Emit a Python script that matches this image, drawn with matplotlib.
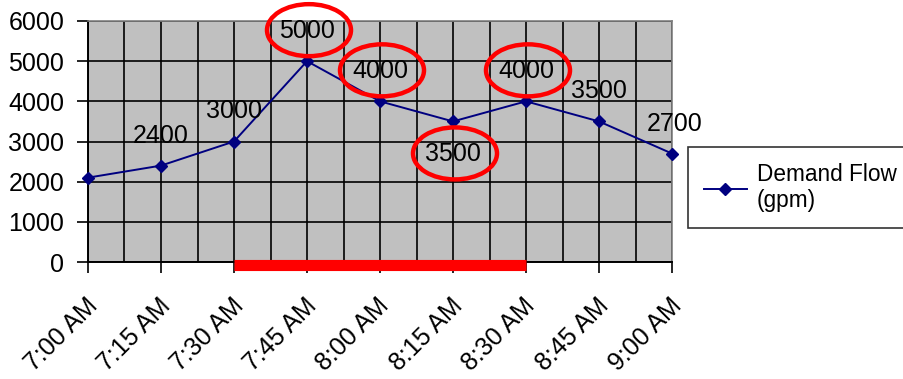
import matplotlib
matplotlib.use("Agg")
import matplotlib.pyplot as plt
import matplotlib.transforms as mtransforms
from matplotlib.patches import Ellipse
from matplotlib.ticker import MultipleLocator

plt.rcParams['font.family'] = ['Liberation Sans', 'DejaVu Sans']

# Demand flow readings through the morning peak
times = ["7:00 AM", "7:15 AM", "7:30 AM", "7:45 AM", "8:00 AM",
         "8:15 AM", "8:30 AM", "8:45 AM", "9:00 AM"]
demand_gpm = [2100, 2400, 3000, 5000, 4000, 3500, 4000, 3500, 2700]

# Which points carry a value label, and where it sits (above / below)
labelled = ["7:15 AM", "7:30 AM", "7:45 AM", "8:00 AM", "8:15 AM",
            "8:30 AM", "8:45 AM", "9:00 AM"]
label_below = ["8:15 AM"]
circled = ["7:45 AM", "8:00 AM", "8:15 AM", "8:30 AM"]

# Peak window highlighted along the time axis
peak_start = "7:30 AM"
peak_end = "8:30 AM"

y_ticks = [0, 1000, 2000, 3000, 4000, 5000, 6000]

FS = 18
LEG_FS = 16.3
NAVY = "#000080"

fig = plt.figure(figsize=(9.04, 3.79), dpi=100)
ax = fig.add_axes([88 / 904, 117 / 379, 584 / 904, 241 / 379])
ax.set_facecolor("#C0C0C0")

x = list(range(len(times)))
line, = ax.plot(x, demand_gpm, color=NAVY, lw=1.4, marker="D",
                markersize=6.5, markerfacecolor=NAVY, markeredgecolor=NAVY,
                zorder=4, clip_on=False, label="Demand Flow\n(gpm)")

ax.set_xlim(0, len(times) - 1)
ax.set_ylim(y_ticks[0], y_ticks[-1])
ax.set_yticks(y_ticks)
ax.set_xticks(x)
ax.set_xticklabels(times)
ax.xaxis.set_minor_locator(MultipleLocator(0.5))

ax.grid(True, which="both", axis="x", color="black", lw=1.2)
ax.grid(True, which="major", axis="y", color="black", lw=1.2)
ax.set_axisbelow(True)

ax.tick_params(axis="y", direction="out", length=8, width=1.2, pad=9,
               labelsize=FS, colors="black")
ax.tick_params(axis="x", which="major", direction="out", length=8,
               width=1.2, pad=15, labelsize=FS)
ax.tick_params(axis="x", which="minor", length=0)
for lab in ax.get_xticklabels():
    lab.set_rotation(45)
    lab.set_ha("right")
    lab.set_va("top")
    lab.set_rotation_mode("anchor")
    lab.set_transform(lab.get_transform() +
                      mtransforms.ScaledTranslation(-3 / 100, 0, fig.dpi_scale_trans))

for side in ("left", "bottom"):
    ax.spines[side].set_color("black")
    ax.spines[side].set_linewidth(1.4)
for side in ("top", "right"):
    ax.spines[side].set_color("#808080")
    ax.spines[side].set_linewidth(1.2)

# Value labels with red rings around the highlighted ones
for i, t in enumerate(times):
    if t not in labelled:
        continue
    dy = -33 if t in label_below else 30
    dx = 3 if i == len(times) - 1 else 0
    ax.annotate(f"{demand_gpm[i]}", (i, demand_gpm[i]), xytext=(dx, dy),
                textcoords="offset pixels", ha="center", va="center",
                fontsize=FS, color="black", zorder=5, annotation_clip=False)
    if t in circled:
        off = mtransforms.ScaledTranslation((dx + 2) / 100, (dy + 1) / 100,
                                            fig.dpi_scale_trans)
        ring = Ellipse((0, 0), 0.84, 0.52, fill=False, edgecolor="#FF0000",
                       lw=3.2, zorder=6, clip_on=False)
        ring.set_transform(fig.dpi_scale_trans +
                           mtransforms.ScaledTranslation(i, demand_gpm[i], ax.transData) +
                           off)
        ax.add_artist(ring)

# Peak window bar on the time axis
i0, i1 = times.index(peak_start), times.index(peak_end)
bar_tf = ax.get_xaxis_transform() + mtransforms.ScaledTranslation(0, -2.5 / 100, fig.dpi_scale_trans)
ax.plot([i0, i1], [0, 0], color="#FF0000", lw=8, solid_capstyle="butt",
        transform=bar_tf, clip_on=False, zorder=5)

leg = fig.legend(handles=[line], loc="upper left",
                 bbox_to_anchor=(688 / 904, 1 - 147 / 379),
                 fontsize=LEG_FS, frameon=True, fancybox=False, edgecolor="black",
                 handlelength=1.9, handletextpad=0.45, borderpad=0.7,
                 labelspacing=0.2, borderaxespad=0)
leg.get_frame().set_linewidth(1.2)
leg.get_frame().set_facecolor("white")

fig.savefig("out.png", dpi=100)
